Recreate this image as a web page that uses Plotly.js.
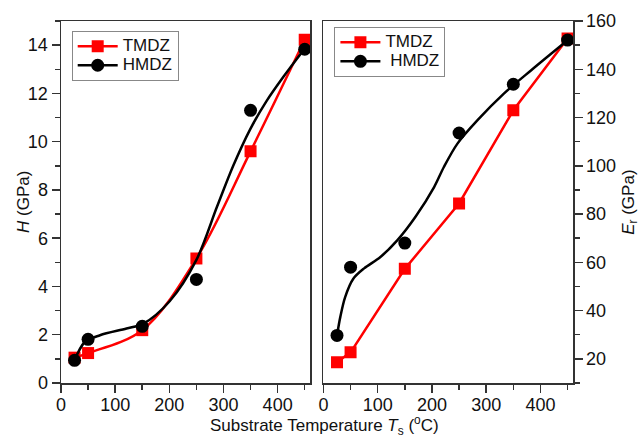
<!DOCTYPE html>
<html><head><meta charset="utf-8">
<script src="https://cdn.plot.ly/plotly-3.0.1.min.js"></script>
<style>html,body{margin:0;padding:0;background:#fff}#chart{width:640px;height:438px}</style>
</head><body><div id="chart"></div>
<script>
// Data
const temps = [25, 50, 150, 250, 350, 450];
const hTMDZ = [1.05, 1.24, 2.19, 5.16, 9.6, 14.22];
const hHMDZ = [0.94, 1.81, 2.35, 4.29, 11.3, 13.83];
const hFitX = [25, 44, 72, 121, 152, 201, 250, 288, 318, 349, 380, 411, 448];
const hFitY = [0.94, 1.7, 1.98, 2.26, 2.46, 3.4, 5.1, 7.3, 9.0, 10.5, 11.7, 12.7, 13.8];
const eTMDZ = [18.6, 22.7, 57.3, 84.4, 123, 152.8];
const eHMDZ = [29.7, 58, 68, 113.6, 133.8, 152.1];
const eFitX = [25, 31, 40, 55, 75, 105, 136, 170, 204, 222, 247, 284, 333, 383, 450];
const eFitY = [29.7, 37.3, 45.6, 53.2, 57.5, 62.2, 69.1, 79, 91.2, 99.5, 109.2, 118.9, 130, 139.6, 152];
const seriesNames = ['TMDZ', 'HMDZ'];

const RED = '#ff0000', BLK = '#000000';
const FAM = 'Liberation Sans, Arial, sans-serif';
const font = {family: FAM, size: 18, color: '#111'};
const lg = s => '<span style="font-size:17px">' + s + '</span>';

const traces = [
  // left panel
  {x: temps, y: hTMDZ, mode: 'lines+markers', name: lg(seriesNames[0]), xaxis: 'x', yaxis: 'y', legend: 'legend',
   line: {color: RED, width: 2.5, shape: 'spline', smoothing: 1}, marker: {symbol: 'square', size: 12, color: RED}},
  {x: hFitX, y: hFitY, mode: 'lines', showlegend: false, xaxis: 'x', yaxis: 'y',
   line: {color: BLK, width: 2.5, shape: 'spline', smoothing: 0.9}},
  {x: temps, y: hHMDZ, mode: 'markers', showlegend: false, xaxis: 'x', yaxis: 'y',
   marker: {symbol: 'circle', size: 13, color: BLK}},
  {x: [null], y: [null], mode: 'lines+markers', name: lg(seriesNames[1]), xaxis: 'x', yaxis: 'y', legend: 'legend',
   line: {color: BLK, width: 2.5}, marker: {symbol: 'circle', size: 13, color: BLK}},
  // right panel
  {x: temps, y: eTMDZ, mode: 'lines+markers', name: lg(seriesNames[0]), xaxis: 'x2', yaxis: 'y2', legend: 'legend2',
   line: {color: RED, width: 2.5}, marker: {symbol: 'square', size: 12, color: RED}},
  {x: eFitX, y: eFitY, mode: 'lines', showlegend: false, xaxis: 'x2', yaxis: 'y2',
   line: {color: BLK, width: 2.5, shape: 'spline', smoothing: 0.9}},
  {x: temps, y: eHMDZ, mode: 'markers', showlegend: false, xaxis: 'x2', yaxis: 'y2',
   marker: {symbol: 'circle', size: 13, color: BLK}},
  {x: [null], y: [null], mode: 'lines+markers', name: lg('&nbsp;' + seriesNames[1]), xaxis: 'x2', yaxis: 'y2', legend: 'legend2',
   line: {color: BLK, width: 2.5}, marker: {symbol: 'circle', size: 13, color: BLK}}
];

const axLine = {showline: true, linecolor: '#333', linewidth: 1.5, mirror: true, showgrid: false, zeroline: false,
  ticks: 'outside', ticklen: 8, tickwidth: 1.5, tickcolor: '#333', tickfont: font};
const minorX = {dtick: 50, ticks: 'outside', ticklen: 5, tickcolor: '#333', tickwidth: 1.5};

const layout = {
  width: 640, height: 438,
  margin: {l: 61, r: 67.3, t: 21, b: 55.3},
  paper_bgcolor: '#fff', plot_bgcolor: '#fff',
  font: font,
  xaxis: Object.assign({}, axLine, {domain: [0, 0.4866], range: [0, 460], dtick: 100, tick0: 0,
    ticklabelstandoff: -3, minor: minorX}),
  yaxis: Object.assign({}, axLine, {range: [0, 15], dtick: 2, tick0: 0,
    minor: {dtick: 1, ticks: 'outside', ticklen: 5, tickcolor: '#333', tickwidth: 1.5}}),
  xaxis2: Object.assign({}, axLine, {domain: [0.5126, 1], range: [0, 460], dtick: 100, tick0: 0, anchor: 'y2',
    ticklabelstandoff: -3, minor: minorX}),
  yaxis2: Object.assign({}, axLine, {range: [10, 160], dtick: 20, tick0: 0, anchor: 'x2', side: 'right',
    minor: {dtick: 10, ticks: 'outside', ticklen: 5, tickcolor: '#333', tickwidth: 1.5}}),
  legend: {x: 0.0209, y: 0.973, xanchor: 'left', yanchor: 'top', bgcolor: '#fff', bordercolor: '#888', borderwidth: 1,
    font: {family: FAM, size: 12, color: '#111'}, itemwidth: 40, tracegroupgap: 0},
  legend2: {x: 0.534, y: 0.984, xanchor: 'left', yanchor: 'top', bgcolor: '#fff', bordercolor: '#888', borderwidth: 1,
    font: {family: FAM, size: 12, color: '#111'}, itemwidth: 40, tracegroupgap: 0},
  annotations: [
    {text: 'Substrate Temperature <i>T</i><sub>s</sub> (<sup>o</sup>C)', xref: 'paper', yref: 'paper', x: 0.514, y: -0.117,
     xanchor: 'center', yanchor: 'middle', showarrow: false, font: {family: FAM, size: 17, color: '#111'}},
    {text: '<i>H</i> (GPa)', xref: 'paper', yref: 'paper', x: -0.0743, y: 0.5, textangle: -90,
     xanchor: 'center', yanchor: 'middle', showarrow: false, font: {family: FAM, size: 17, color: '#111'}},
    {text: '<i>E</i><sub>r</sub> (GPa)', xref: 'paper', yref: 'paper', x: 1.111, y: 0.5, textangle: -90,
     xanchor: 'center', yanchor: 'middle', showarrow: false, font: {family: FAM, size: 17, color: '#111'}}
  ],
  showlegend: true
};

Plotly.newPlot('chart', traces, layout, {displayModeBar: false, staticPlot: true});
</script></body></html>
